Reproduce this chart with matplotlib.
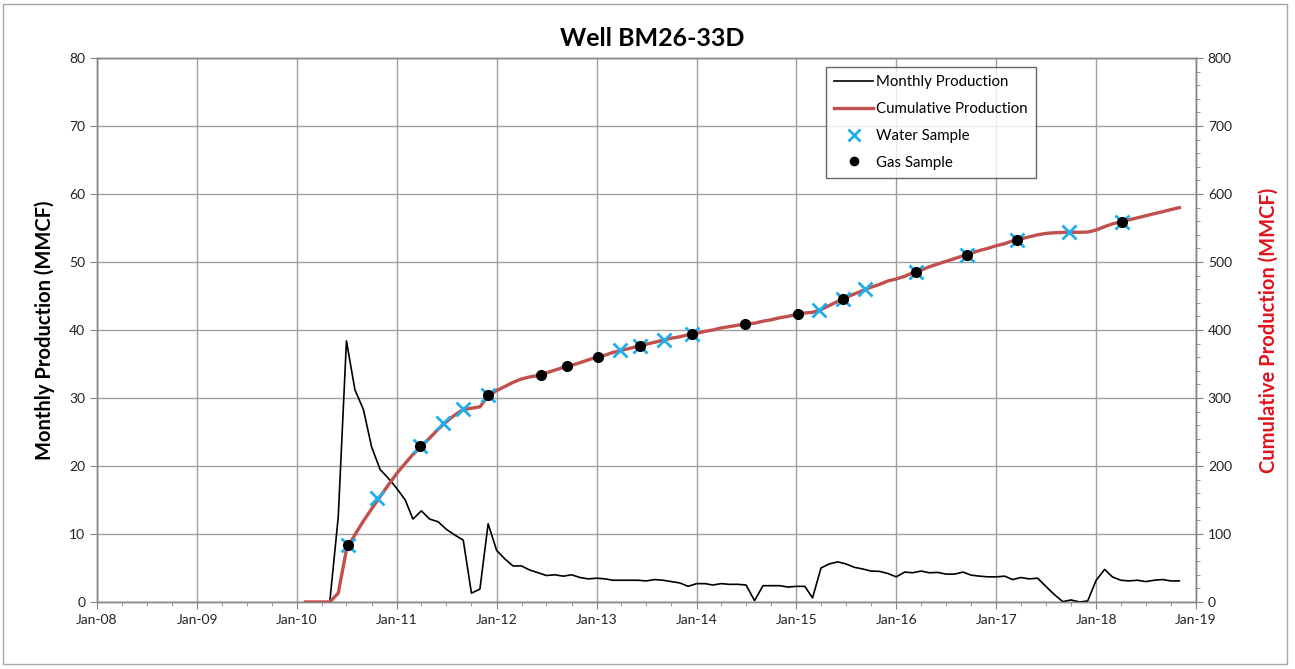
import matplotlib
matplotlib.use("Agg")
import matplotlib.pyplot as plt
import matplotlib.dates as mdates
from matplotlib.patches import Rectangle
from matplotlib.lines import Line2D
import pandas as pd

plt.rcParams['font.family'] = ['Lato', 'DejaVu Sans']

# ---------------- data ----------------
start_month = '2010-02-01'
monthly = [
    0, 0, 0, 0, 12.5, 38.4, 31.2, 28.3, 22.8, 19.5, 18.2,
    16.7, 15.0, 12.2, 13.4, 12.2, 11.8, 10.7, 9.85, 9.1, 1.3, 1.9, 11.5,
    7.6, 6.3, 5.3, 5.3, 4.7, 4.3, 3.9, 4.0, 3.8, 4.0, 3.6, 3.4,
    3.5, 3.4, 3.2, 3.2, 3.2, 3.2, 3.1, 3.3, 3.2, 3.0, 2.8, 2.3,
    2.7, 2.7, 2.5, 2.7, 2.6, 2.6, 2.5, 0.2, 2.4, 2.4, 2.4, 2.2,
    2.3, 2.3, 0.6, 5.0, 5.6, 5.9, 5.6, 5.1, 4.85, 4.55, 4.5, 4.2,
    3.7, 4.4, 4.3, 4.55, 4.3, 4.35, 4.1, 4.1, 4.4, 3.95, 3.8, 3.7,
    3.7, 3.8, 3.3, 3.6, 3.4, 3.5, 2.3, 1.1, 0.05, 0.3, 0.0, 0.15,
    3.2, 4.8, 3.7, 3.2, 3.1, 3.2, 3.0, 3.2, 3.3, 3.1, 3.1,
]
cumulative = [
    0, 0, 0, 0, 13, 77, 99, 119, 137, 155, 172,
    189, 204, 217, 229, 241, 254, 265, 275, 283, 285, 287, 303,
    311, 317, 323, 328, 331, 333, 337, 341, 345, 348, 352, 356,
    360, 363, 367, 370, 373, 376, 379, 382, 385, 388, 390, 393,
    395, 398, 400, 403, 405, 407, 409, 410, 413, 415, 418, 420,
    423, 425, 426, 430, 436, 442, 448, 453, 458, 463, 467, 472,
    475, 479, 484, 488, 493, 497, 501, 505, 509, 513, 517, 520,
    524, 527, 531, 534, 537, 540, 542, 543, 543.5, 543.7, 543.7, 544,
    547, 552, 556, 559, 562, 565, 568, 571, 574, 577, 580,
]
water_dates = ['2010-07-07', '2010-10-19', '2011-03-28', '2011-06-18', '2011-09-01',
               '2011-12-02', '2013-03-28', '2013-06-10', '2013-09-04', '2013-12-16',
               '2015-03-25', '2015-06-19', '2015-09-08', '2016-03-12', '2016-09-16',
               '2017-03-19', '2017-09-22', '2018-04-07']
water_values = [84, 152.5, 229, 263, 283.4, 304.5, 370, 377, 385.3, 394,
                429.4, 446, 460, 486, 511, 532, 543.6, 559]
gas_dates = ['2010-07-07', '2011-03-28', '2011-12-02', '2012-06-13', '2012-09-16',
             '2013-01-07', '2013-06-10', '2013-12-16', '2014-06-27', '2015-01-06',
             '2015-06-19', '2016-03-12', '2016-09-16', '2017-03-19', '2018-04-07']
gas_values = [84, 229, 304.5, 334, 347, 361, 377, 394, 408.8, 424,
              446, 486, 511, 532, 559]

title = 'Well BM26-33D'
left_label = 'Monthly Production (MMCF)'
right_label = 'Cumulative Production (MMCF)'

months = pd.date_range(start=start_month, periods=len(monthly), freq='MS')
wd = pd.to_datetime(water_dates)
gd = pd.to_datetime(gas_dates)

# ---------------- figure ----------------
W, H = 1295, 669
fig = plt.figure(figsize=(W / 100, H / 100), dpi=100)
fig.patches.append(Rectangle((3 / W, 1 - 664 / H), 1284 / W, 660 / H,
                             transform=fig.transFigure, fill=False,
                             edgecolor='#A6A6A6', linewidth=1.0))

ax = fig.add_axes([97 / W, 1 - 602 / H, (1196 - 97) / W, (602 - 58) / H])
ax2 = ax.twinx()

grid_c = '#A0A0A0'
ax.set_xlim(pd.Timestamp('2008-01-01'), pd.Timestamp('2019-01-01'))
ax.set_ylim(0, 80)
ax2.set_ylim(0, 800)
ax.set_yticks(range(0, 81, 10))
ax2.set_yticks(range(0, 801, 100))
ax.xaxis.set_major_locator(mdates.YearLocator())
ax.xaxis.set_major_formatter(mdates.DateFormatter('%b-%y'))
ax.xaxis.set_minor_locator(mdates.MonthLocator(bymonth=[4, 7, 10]))
ax2.yaxis.set_minor_locator(matplotlib.ticker.MultipleLocator(20))

ax.grid(True, which='major', color=grid_c, linewidth=1.0)
ax.set_axisbelow(True)
for a in (ax, ax2):
    for s in a.spines.values():
        s.set_color('#868686')
        s.set_linewidth(1.0)
ax.tick_params(axis='both', which='major', labelsize=10, colors='#868686',
               labelcolor='#222222', length=5, direction='out')
ax.tick_params(axis='x', which='minor', length=3, colors='#868686', direction='out')
ax2.tick_params(axis='y', which='major', labelsize=10, colors='#868686',
                labelcolor='#222222', length=5, direction='out')
ax2.tick_params(axis='y', which='minor', length=3, colors='#868686', direction='out')

ax.plot(months, monthly, color='black', linewidth=1.2, zorder=3)
ax2.plot(months, cumulative, color='#C0504D', linewidth=2.4, zorder=3)
ax2.plot(wd, water_values, linestyle='none', marker='x', color='#1EAEEB',
         markersize=10, markeredgewidth=2.0, zorder=4)
ax2.plot(gd, gas_values, linestyle='none', marker='o', color='black',
         markersize=7, zorder=5)

ax.set_ylabel(left_label, fontsize=14.5, fontweight='bold', color='black', labelpad=10)
ax2.set_ylabel(right_label, fontsize=14.5, fontweight='bold', color='#E0141E',
               labelpad=19)
fig.text(652 / W, 1 - 38 / H, title, ha='center', va='center',
         fontsize=18, fontweight='bold')

handles = [
    Line2D([], [], color='black', linewidth=1.2),
    Line2D([], [], color='#C0504D', linewidth=2.4),
    Line2D([], [], linestyle='none', marker='x', color='#1EAEEB',
           markersize=8, markeredgewidth=2.0),
    Line2D([], [], linestyle='none', marker='o', color='black', markersize=6),
]
labels = ['Monthly Production', 'Cumulative Production', 'Water Sample', 'Gas Sample']
leg = ax2.legend(handles, labels, loc='upper left',
                 bbox_to_anchor=((826 - 97) / (1196 - 97), 1 - (67 - 58) / (602 - 58)),
                 fontsize=10.8, frameon=True, fancybox=False, handlelength=2.6,
                 handletextpad=0.2, labelspacing=0.85, borderpad=0.55,
                 borderaxespad=0)
leg.get_frame().set_edgecolor('#404040')
leg.get_frame().set_linewidth(1.0)

fig.savefig('out.png', dpi=100)
